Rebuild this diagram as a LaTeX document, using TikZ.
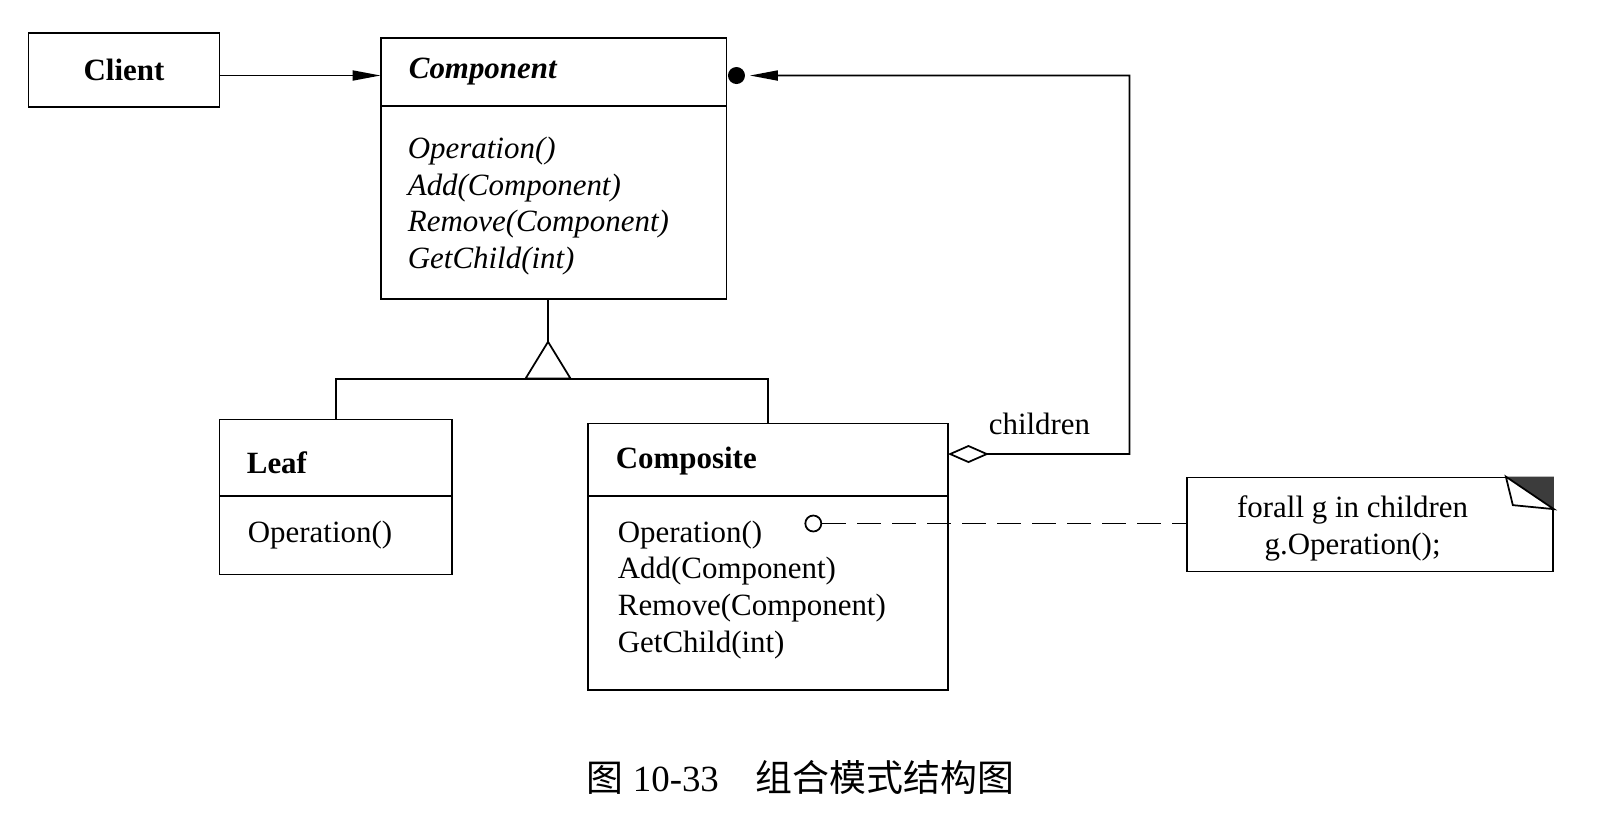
\documentclass[tikz,border=0pt]{standalone}
\usepackage{fontspec}
\setmainfont{Liberation Serif}
\newfontfamily\cjk{Noto Sans CJK SC}
\usetikzlibrary{arrows.meta,calc,positioning}

\newcommand\umlfont{\fontsize{17.6pt}{20.9pt}\selectfont}
\definecolor{foldgray}{RGB}{60,60,60}

\tikzset{
  classbox/.style={draw,inner sep=0pt,outer sep=0pt,font=\umlfont\bfseries},
  classname/.style={anchor=west,inner sep=0pt,font=\umlfont\bfseries},
  abstractname/.style={classname,font=\umlfont\bfseries\itshape},
  oplist/.style={anchor=west,inner sep=0pt,align=left,font=\umlfont},
  abstractops/.style={oplist,font=\umlfont\itshape},
  notelink/.style={dash pattern=on 0.48cm off 0.22cm},
  navtip/.style={-{Triangle[length=0.56cm,width=0.2cm]}},
}

\begin{document}
\begin{tikzpicture}[x=0.02cm,y=-0.02cm,line width=1pt]
   \useasboundingbox (0,0) rectangle (1600,839);

   % client and component
   \node[classbox,minimum width=3.816cm,minimum height=1.488cm] (client) at (124,69.9) {Client};
   \node[classbox,minimum width=6.918cm,minimum height=5.224cm] (comp) at (553.55,168.4) {};
   \draw ($(comp.north west)+(0,68.3)$) -- ($(comp.north east)+(0,68.3)$);
   \node[abstractname] (compname) at (408,71.3) {Component};
   \node[abstractops] (compops) at (407,206.1) {Operation()\\Add(Component)\\Remove(Component)\\GetChild(int)};
   \draw[navtip] ($(client.east)+(0,5.6)$) -- ($(comp.west |- client.east)+(0,5.6)$);

   % leaf
   \node[classbox,minimum width=4.652cm,minimum height=3.102cm] (leaf) at (335.7,497) {};
   \draw ($(leaf.north west)+(0,76.5)$) -- ($(leaf.north east)+(0,76.5)$);
   \node[classname] (leafname) at (246,462.5) {Leaf};
   \node[oplist] (leafops) at (247,534.6) {Operation()};

   % composite
   \node[classbox,minimum width=7.204cm,minimum height=5.326cm] (compo) at (767.9,556.65) {};
   \draw ($(compo.north west)+(0,72.4)$) -- ($(compo.north east)+(0,72.4)$);
   \node[classname] (componame) at (615,461.2) {Composite};
   \node[oplist] (compoops) at (617,589.7) {Operation()\\Add(Component)\\Remove(Component)\\GetChild(int)};

   % inheritance
   \draw ($(comp.south)+(-5.5,0)$) -- ++(0,42.8) coordinate (apex);
   \draw (apex) -- ++(-22.5,36.8) -- ++(45,0) -- cycle;
   \draw (leaf.north) -- ++(0,-40.8) -| (compo.north);

   % children aggregation
   \node[circle,fill,inner sep=0pt,minimum size=0.34cm] (hole) at ($(comp.north east)+(10,37.7)$) {};
   \coordinate (turn) at (1129.6,75.5);
   \draw[{Diamond[open,length=0.82cm,width=0.36cm]}-{Triangle[length=0.56cm,width=0.2cm]}]
      ($(compo.north east)+(0,30.5)$) -| (turn) -- ([xshift=0.08cm]hole.east);
   \node[font=\umlfont] (role) at (1039.5,423.5) {children};

   % note
   \node[draw,inner sep=0pt,minimum width=7.32cm,minimum height=1.88cm] (note) at (1370,524.5) {};
   \fill[foldgray] ($(note.north east)+(-48,0)$) -- (note.north east) -- ++(0,32.5) -- cycle;
   \draw[fill=white] ($(note.north east)+(-48,0)$) -- ++(7,28.5) -- ($(note.north east)+(0,32.5)$) -- cycle;
   \node[align=center,font=\umlfont] (notetext) at (1352.6,528.5) {forall g in children\\g.Operation();};
   \node[circle,draw,fill=white,inner sep=0pt,minimum size=0.32cm] (opdot) at (813.3,523.5) {};
   \draw[notelink] (opdot) -- (opdot -| note.west);

   % caption
   \node[anchor=west,font=\fontsize{21pt}{24pt}\selectfont] (caption) at (580,777.6)
      {{\cjk 图} 10-33\hspace{1em}{\cjk 组合模式结构图}};
\end{tikzpicture}
\end{document}
